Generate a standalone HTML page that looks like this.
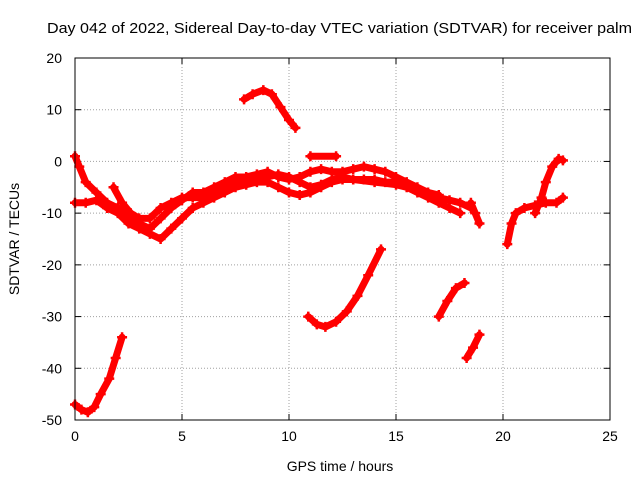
<!DOCTYPE html>
<html><head><meta charset="utf-8"><style>
body{margin:0;background:#fff;}
svg text{font-family:"Liberation Sans",sans-serif;font-size:14px;fill:#000;}
</style></head><body>
<svg id="chart" width="640" height="480">
<rect width="640" height="480" fill="#fff"/>
<text x="47" y="33" textLength="585" lengthAdjust="spacingAndGlyphs" style="font-size:15px">Day 042 of 2022, Sidereal Day-to-day VTEC variation (SDTVAR) for receiver palm</text>
<text x="340" y="471" text-anchor="middle">GPS time / hours</text>
<text transform="translate(19,239) rotate(-90)" text-anchor="middle">SDTVAR / TECUs</text>
<g id="grid"></g><g id="ticks"></g><g id="series"></g>
<rect x="75" y="58" width="535" height="362" fill="none" stroke="#000" stroke-width="1"/>
</svg>
<script>
const xTicks=[0,5,10,15,20,25];
const yTicks=[20,10,0,-10,-20,-30,-40,-50];
const tracks=[
[[0,-47],[0.3,-48],[0.6,-48.5],[0.9,-47.5],[1.2,-45],[1.6,-42],[1.9,-38],[2.2,-34]],
[[7.9,12],[8.3,13],[8.8,13.8],[9.2,13],[9.6,10.5],[10.0,8],[10.3,6.5]],
[[10.9,-30],[11.3,-31.5],[11.7,-32],[12.2,-31],[12.7,-29],[13.2,-26],[13.7,-22],[14.3,-17]],
[[17,-30],[17.4,-27],[17.8,-24.5],[18.2,-23.5]],
[[18.3,-38],[18.6,-36],[18.9,-33.5]],
[[11,1],[12.2,1]],
[[0,1],[0.2,-1],[0.5,-4],[1,-6],[1.5,-8],[2,-9],[2.5,-11],[3,-12],[3.5,-13],[4,-11],[4.5,-9],[5,-7.5],[5.5,-6],[6,-6],[6.5,-5],[7,-4],[7.5,-3],[8,-3],[8.5,-2.5],[9,-2],[9.5,-3],[10,-3.5],[10.5,-3],[11,-2],[11.5,-1.5],[12,-2],[12.5,-2],[13,-1.5],[13.5,-1],[14,-1.5],[14.5,-2],[15,-3],[15.5,-4],[16,-5],[16.5,-6],[17,-7],[17.5,-7.5],[18,-8],[18.5,-9]],
[[0,-8],[0.5,-8],[1,-7.5],[1.5,-9],[2,-10],[2.5,-12],[3,-13],[3.5,-14],[4,-15],[4.5,-13],[5,-11],[5.5,-9],[6,-8],[6.5,-7],[7,-6],[7.5,-5],[8,-4.5],[8.5,-4],[9,-4],[9.5,-5],[10,-6],[10.5,-6.5],[11,-6],[11.5,-5],[12,-4],[12.5,-3.5],[13,-3.5],[13.5,-3.5],[14,-3.5],[14.5,-4],[15,-4],[15.5,-5],[16,-6],[16.5,-7],[17,-8],[17.5,-9],[18,-10]],
[[1.8,-5],[2.2,-8],[2.6,-10],[3,-11],[3.5,-11],[4,-9],[4.5,-8],[5,-7],[5.5,-7],[6,-7],[6.5,-6],[7,-5],[7.5,-4],[8,-3.5],[8.5,-3],[9,-3],[9.5,-2.5],[10,-3],[10.5,-4],[11,-5],[11.5,-4.5],[12,-3.5],[12.5,-3],[13,-3.5],[14,-4],[15,-4.5],[16,-5.5],[17,-6.5]],
[[18.5,-8],[18.7,-10],[18.9,-12]],
[[20.2,-16],[20.4,-12],[20.6,-10],[21,-9],[21.5,-8.5],[22,-8],[22.5,-8],[22.8,-7]],
[[21.5,-10],[21.8,-7],[22,-4],[22.3,-1],[22.6,0.5],[22.8,0.2]]
];
const NS="http://www.w3.org/2000/svg";
const X=v=>75+v*(535/25);
const Y=v=>58+(20-v)*(362/70);
function mk(t,a){const e=document.createElementNS(NS,t);for(const k in a)e.setAttribute(k,a[k]);return e;}
const grid=document.getElementById('grid'),ticks=document.getElementById('ticks'),ser=document.getElementById('series');
xTicks.forEach(v=>{
 if(v>0&&v<25){const g=mk('line',{x1:X(v),x2:X(v),y1:58,y2:420,stroke:'#a0a0a0','stroke-dasharray':'1,2'});
 
 grid.appendChild(g);}
 const t=mk('text',{x:X(v),y:441,'text-anchor':'middle'});t.textContent=v;
 
 ticks.appendChild(t);
 ticks.appendChild(mk('line',{x1:X(v),x2:X(v),y1:420,y2:414,stroke:'#000'}));
 ticks.appendChild(mk('line',{x1:X(v),x2:X(v),y1:58,y2:64,stroke:'#000'}));
});
yTicks.forEach(v=>{
 if(v<20&&v>-50){const g=mk('line',{x1:75,x2:610,y1:Y(v),y2:Y(v),stroke:'#a0a0a0','stroke-dasharray':'1,2'});
 
 grid.appendChild(g);}
 const t=mk('text',{x:62,y:Y(v)+5,'text-anchor':'end'});t.textContent=v;
 
 ticks.appendChild(t);
 ticks.appendChild(mk('line',{x1:75,x2:81,y1:Y(v),y2:Y(v),stroke:'#000'}));
 ticks.appendChild(mk('line',{x1:604,x2:610,y1:Y(v),y2:Y(v),stroke:'#000'}));
});
tracks.forEach((tr,i)=>{
 const p=mk('polyline',{points:tr.map(d=>X(d[0])+','+Y(d[1])).join(' '),fill:'none',stroke:'#ff0000','stroke-width':7,'stroke-linejoin':'round','stroke-linecap':'round'});
 
 
 ser.appendChild(p);
 tr.forEach(d=>{
  const m=mk('path',{d:`M${X(d[0])-5},${Y(d[1])}h10M${X(d[0])},${Y(d[1])-5}v10`,stroke:'#ff0000','stroke-width':2.5});
  
  
  ser.appendChild(m);
 });
});
</script>
</body></html>
